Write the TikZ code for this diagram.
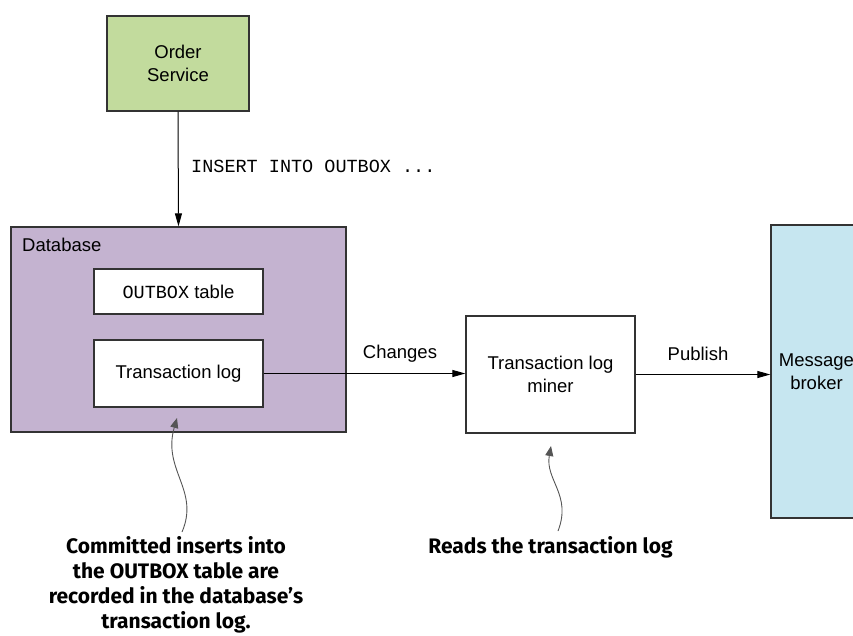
\documentclass[tikz,border=0pt]{standalone}
\usepackage{fontspec}
\setmainfont{Liberation Sans}
\setmonofont{Liberation Mono}
\newfontfamily\notefont{Fira Sans}
\usetikzlibrary{arrows.meta}

\definecolor{svcgreen}{RGB}{194,219,157}
\definecolor{dbpurple}{RGB}{196,179,208}
\definecolor{brokerblue}{RGB}{198,230,240}
\definecolor{edge}{RGB}{51,51,51}
\definecolor{curl}{RGB}{85,85,85}

\tikzset{
  box/.style={draw=edge, line width=1.3pt, inner sep=0pt, align=center,
    font=\fontsize{18.5}{23}\selectfont},
  flow/.style={line width=1pt, -{Triangle[length=13pt,width=7pt]}},
  curly/.style={draw=curl, line width=0.9pt, -{Triangle[length=10pt,width=8pt]}},
  lbl/.style={inner sep=0pt, font=\fontsize{18.5}{23}\selectfont},
  note/.style={inner sep=0pt, align=center,
    font=\notefont\bfseries\fontsize{21}{25}\selectfont},
}

\begin{document}
\begin{tikzpicture}[x=1pt,y=-1pt]
  \useasboundingbox (0,0) rectangle (853,635);
  \clip (0,0) rectangle (853,635);

  % service and its insert statement
  \node[box, fill=svcgreen, minimum width=142pt, minimum height=95pt] (svc) at (178,63.5) {Order\\Service};
  \node[lbl, anchor=west, font=\ttfamily\fontsize{18.5}{23}\selectfont] (ins) at (191,166) {INSERT INTO OUTBOX ...};

  % database with its table and log
  \node[box, fill=dbpurple, minimum width=335pt, minimum height=205pt] (db) at (178.5,329.5) {};
  \node[lbl, anchor=west] (dblbl) at (22,245) {Database};
  \node[box, fill=white, minimum width=169pt, minimum height=45pt] (outbox) at (178.5,291.5) {{\ttfamily OUTBOX} table};
  \node[box, fill=white, minimum width=169pt, minimum height=67pt] (tlog) at (178.5,373.5) {Transaction log};

  % miner and broker
  \node[box, fill=white, minimum width=169pt, minimum height=117pt] (miner) at (550.5,374.5) {Transaction log\\miner};
  \node[box, fill=brokerblue, minimum width=91pt, minimum height=293pt] (broker) at (816.5,371.5) {Message\\broker};

  % flows
  \draw[flow] (svc.south) -- (db.north);
  \draw[flow] (tlog.east) -- (tlog.east -| miner.west);
  \draw[flow] (miner.east) -- (miner.east -| broker.west);
  \node[lbl] (chg) at (400,354) {Changes};
  \node[lbl] (pub) at (698,354) {Publish};

  % annotations
  \node[note] (note1) at (176,584.5) {Committed inserts into\\the OUTBOX table are\\recorded in the database’s\\transaction log.};
  \node[note] (note2) at (550.5,547) {Reads the transaction log};
  \coordinate (tip1) at (177,418);
  \coordinate (tip2) at (551,446);
  \draw[curly] (182,532) .. controls (200,490) and (162,470) .. (tip1);
  \draw[curly] (558,531) .. controls (572,495) and (545,480) .. (tip2);
\end{tikzpicture}
\end{document}
